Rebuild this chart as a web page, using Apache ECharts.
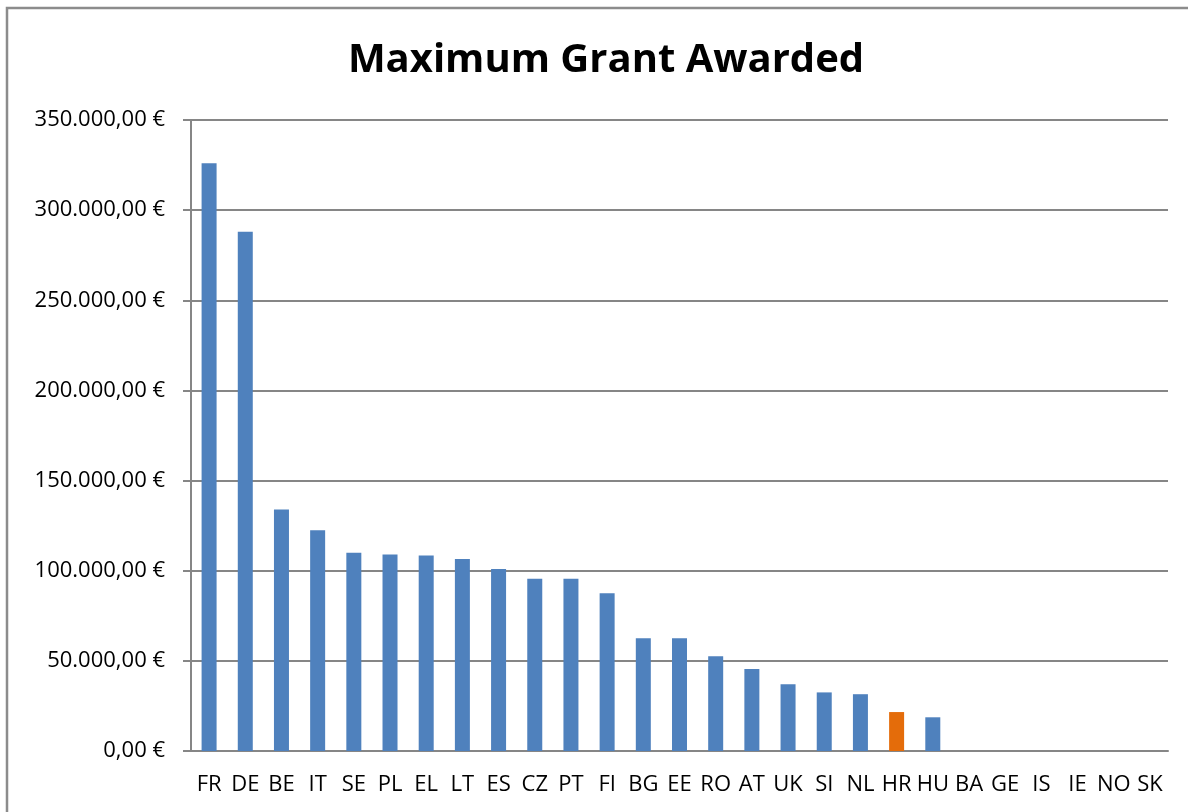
<!DOCTYPE html>
<html>
<head>
<meta charset="utf-8">
<script src="https://cdn.jsdelivr.net/npm/echarts@6/dist/echarts.min.js"></script>
<style>
html,body{margin:0;padding:0;background:#fff;}
#c{width:1188px;height:812px;}
</style>
</head>
<body>
<div id="c"></div>
<script>
const categories = ["FR","DE","BE","IT","SE","PL","EL","LT","ES","CZ","PT","FI","BG","EE","RO","AT","UK","SI","NL","HR","HU","BA","GE","IS","IE","NO","SK"];
const values = [326000,288000,134000,122500,110000,109000,108500,106500,101000,95500,95500,87500,62500,62500,52500,45500,37000,32500,31500,21600,18700,0,0,0,0,0,0];
const highlight = "HR";
const yTicks = {min:0, max:350000, interval:50000};

function fmt(v){
  const s = Math.round(v).toString().replace(/\B(?=(\d{3})+(?!\d))/g, ".");
  return s + ",00 €";
}

const chart = echarts.init(document.getElementById('c'));
chart.setOption({
  animation:false,
  backgroundColor:'#fff',
  title:{
    text:'Maximum Grant Awarded',
    left:601, top:36, textAlign:'center',
    textStyle:{fontFamily:'Open Sans', fontWeight:'bold', fontSize:40, color:'#000'}
  },
  graphic:[{
    type:'rect', shape:{x:7,y:8,width:1200,height:820},
    style:{fill:'none', stroke:'#8c8c8c', lineWidth:2.5}, silent:true
  }],
  grid:{left:191, right:20, top:120, bottom:61, containLabel:false},
  xAxis:{
    type:'category', data:categories,
    axisLine:{lineStyle:{color:'#868686', width:2}},
    axisTick:{show:false},
    axisLabel:{color:'#000', fontFamily:'Open Sans', fontSize:22, margin:23, interval:0}
  },
  yAxis:{
    type:'value', min:yTicks.min, max:yTicks.max, interval:yTicks.interval,
    axisLine:{show:true, lineStyle:{color:'#868686', width:2}},
    axisTick:{show:true, length:8, lineStyle:{color:'#868686', width:2}},
    splitLine:{lineStyle:{color:'#868686', width:2}},
    axisLabel:{color:'#000', fontFamily:'Open Sans', fontSize:22, margin:26, formatter:fmt}
  },
  series:[{
    type:'bar',
    data: values.map((v,i)=>({value:v, itemStyle:{color: categories[i]===highlight ? '#E46C0A' : '#4F81BD'}})),
    barWidth:15
  }]
});
</script>
</body>
</html>
